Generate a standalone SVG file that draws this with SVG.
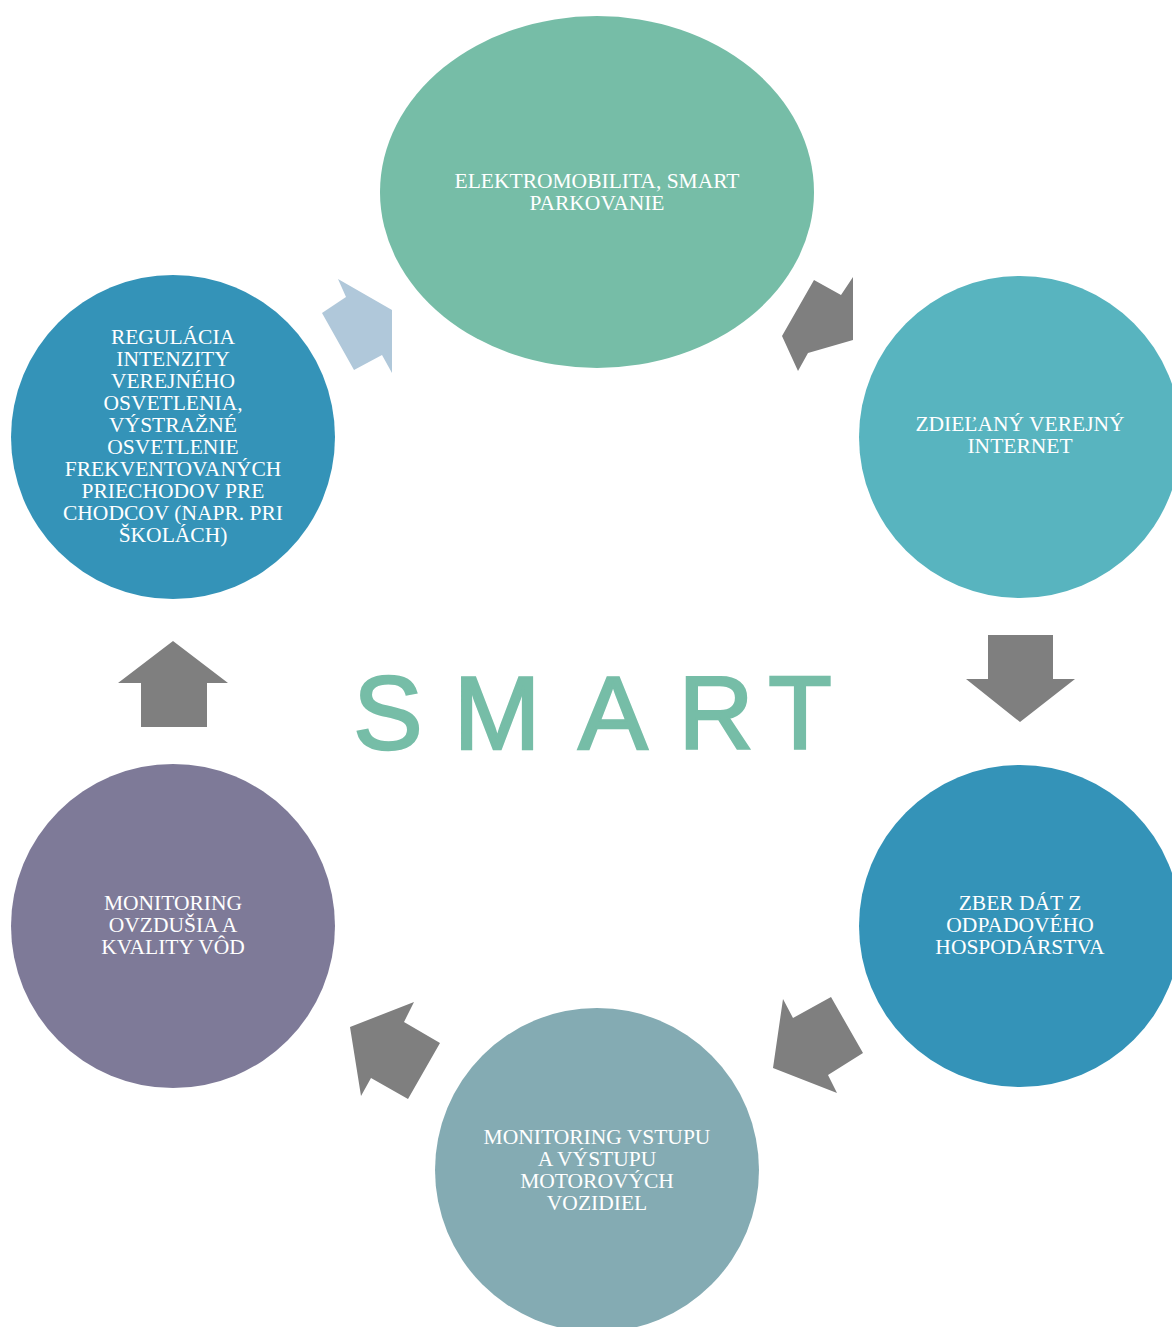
<svg xmlns="http://www.w3.org/2000/svg" width="1172" height="1327" viewBox="0 0 1172 1327">
<style>
.t{font-family:"Liberation Serif","Times New Roman",serif;font-size:21.5px;fill:#ffffff;text-anchor:middle}
.ar{fill:#7f7f7f}
.big{font-family:"Liberation Sans",Arial,sans-serif;font-size:104px;fill:#76bda7;stroke:#76bda7;stroke-width:2.5;text-anchor:middle}
</style>
<rect width="1172" height="1327" fill="#ffffff"/>
<g id="connectors">
<polygon fill="#b0c8da" points="338,279 346,297 322,313 354,370 382,355 392,373 392,310"/>
<polygon class="ar" points="814,280 841,295 853,277 853,340 808,353 798,371 782,336"/>
<polygon class="ar" points="988,635 1053,635 1053,679 1075,679 1020,722 966,679 988,679"/>
<polygon class="ar" points="783,999 793,1018 831,997 863,1053 828,1075 837,1093 773,1068"/>
<polygon class="ar" points="414,1002 404,1022 440,1043 408,1099 371,1078 361,1096 350,1027"/>
<polygon class="ar" points="141,727 207,727 207,683 228,683 173,641 118,683 141,683"/>
</g>
<g id="node-elektromobilita">
<ellipse cx="597" cy="192" rx="217" ry="176" fill="#76bda7"/>
<text class="t" x="597" y="188">ELEKTROMOBILITA, SMART</text>
<text class="t" x="597" y="210">PARKOVANIE</text>
</g>
<g id="node-internet">
<circle cx="1020" cy="437" r="161" fill="#58b4bf"/>
<text class="t" x="1020" y="431">ZDIEĽANÝ VEREJNÝ</text>
<text class="t" x="1020" y="453">INTERNET</text>
</g>
<g id="node-odpad">
<circle cx="1020" cy="926" r="161" fill="#3493b8"/>
<text class="t" x="1020" y="910">ZBER DÁT Z</text>
<text class="t" x="1020" y="932">ODPADOVÉHO</text>
<text class="t" x="1020" y="954">HOSPODÁRSTVA</text>
</g>
<g id="node-vozidla">
<circle cx="597" cy="1170" r="162" fill="#84abb3"/>
<text class="t" x="597" y="1144">MONITORING VSTUPU</text>
<text class="t" x="597" y="1166">A VÝSTUPU</text>
<text class="t" x="597" y="1188">MOTOROVÝCH</text>
<text class="t" x="597" y="1210">VOZIDIEL</text>
</g>
<g id="node-ovzdusie">
<circle cx="173" cy="926" r="162" fill="#7e7a98"/>
<text class="t" x="173" y="910">MONITORING</text>
<text class="t" x="173" y="932">OVZDUŠIA A</text>
<text class="t" x="173" y="954">KVALITY VÔD</text>
</g>
<g id="node-osvetlenie">
<circle cx="173" cy="437" r="162" fill="#3493b8"/>
<text class="t" x="173" y="344">REGULÁCIA</text>
<text class="t" x="173" y="366">INTENZITY</text>
<text class="t" x="173" y="388">VEREJNÉHO</text>
<text class="t" x="173" y="410">OSVETLENIA,</text>
<text class="t" x="173" y="432">VÝSTRAŽNÉ</text>
<text class="t" x="173" y="454">OSVETLENIE</text>
<text class="t" x="173" y="476">FREKVENTOVANÝCH</text>
<text class="t" x="173" y="498">PRIECHODOV PRE</text>
<text class="t" x="173" y="520">CHODCOV (NAPR. PRI</text>
<text class="t" x="173" y="542">ŠKOLÁCH)</text>
</g>
<g id="title">
<text class="big" x="388 497 613 716 800" y="749">SMART</text>
</g>
</svg>
